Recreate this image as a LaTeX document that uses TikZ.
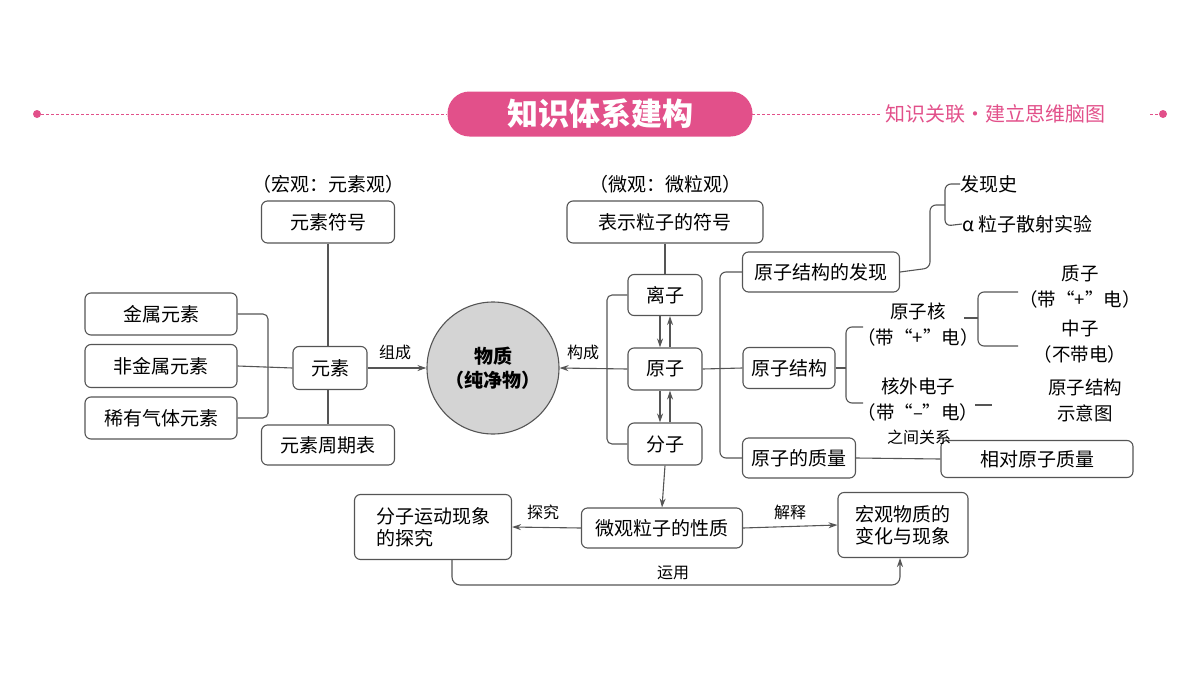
\documentclass[tikz,border=0pt]{standalone}
\usepackage{fontspec}
\setmainfont{Noto Sans CJK SC}
\usetikzlibrary{arrows.meta}
\definecolor{pk}{HTML}{E2508A}
\definecolor{gy}{HTML}{555555}
\begin{document}
\begin{tikzpicture}[x=1pt,y=-1pt,
  box/.style={draw=gy,line width=1.1pt,rounded corners=6pt,fill=white,font=\fontsize{19}{22}\selectfont,inner sep=0pt},
  ln/.style={draw=gy,line width=1.1pt},
  ar/.style={ln,-{Stealth[length=9pt,width=6pt]}},
  lab/.style={font=\fontsize{16}{19}\selectfont,inner sep=1pt},
  txt/.style={font=\fontsize{19}{23}\selectfont,align=center,inner sep=0pt},
  stxt/.style={font=\fontsize{18.5}{26}\selectfont,align=center,inner sep=0pt}]
\useasboundingbox (0,0) rectangle (1200,675);
% header
\fill[pk] (37,114) circle (4);
\fill[pk] (1163,114) circle (4);
\draw[pk,line width=1pt,dash pattern=on 3pt off 2pt] (41,114) -- (447,114);
\draw[pk,line width=1pt,dash pattern=on 3pt off 2pt] (752,114) -- (880,114);
\draw[pk,line width=1pt,dash pattern=on 3pt off 2pt] (1150,114) -- (1159,114);
\node[fill=pk,rounded corners=22pt,minimum width=305pt,minimum height=45pt,text=white,font=\fontsize{31}{34}\selectfont\bfseries] (hd) at (600,114) {知识体系建构};
\node[text=pk,font=\fontsize{20}{22}\selectfont,anchor=west,inner sep=0pt] (hr) at (885,114) {知识关联·建立思维脑图};
% left side
\node[txt] (hg) at (328,184) {（宏观：元素观）};
\node[box,minimum width=133pt,minimum height=42pt] (ysfh) at (328,222) {元素符号};
\node[box,minimum width=74pt,minimum height=43pt] (ys) at (330,368) {元素};
\node[box,minimum width=133pt,minimum height=40pt] (zqb) at (328,445) {元素周期表};
\node[box,minimum width=152pt,minimum height=42pt] (js) at (161,314) {金属元素};
\node[box,minimum width=152pt,minimum height=43pt] (fjs) at (161,366) {非金属元素};
\node[box,minimum width=152pt,minimum height=42pt] (xy) at (161,418) {稀有气体元素};
\draw[ln] (ysfh.south) -- (ysfh.south|-ys.north);
\draw[ln] (zqb.north) -- (zqb.north|-ys.south);
\draw[ln,rounded corners=5pt] (js.east) -- (268,314) -- (268,418) -- (xy.east);
\draw[ln] (fjs.east) -- (ys.west);
\node[circle,draw=gy,line width=1.1pt,fill=black!17,minimum size=132pt,font=\fontsize{19}{24}\selectfont\bfseries,align=center] (wz) at (493,368) {物质\\（纯净物）};
\draw[ar] (ys.east) -- (wz.west);
\node[lab] (zc) at (395,352) {组成};
% micro
\node[txt] (wg) at (665,184) {（微观：微粒观）};
\node[box,minimum width=196pt,minimum height=42pt] (bs) at (665,222) {表示粒子的符号};
\node[box,minimum width=74pt,minimum height=41pt] (lz) at (665,295) {离子};
\node[box,minimum width=74pt,minimum height=42pt] (yz) at (665,369) {原子};
\node[box,minimum width=74pt,minimum height=42pt] (fz) at (665,444) {分子};
\draw[ln] (bs.south) -- (lz.north);
\draw[ln,rounded corners=5pt] (lz.west) -- (607,295) -- (607,444) -- (fz.west);
\draw[ar] (yz.west) -- (wz.east);
\node[lab] (gc) at (583,352) {构成};
\draw[ar] ([xshift=-5pt]lz.south) -- ([xshift=-5pt]yz.north);
\draw[ar] ([xshift=5pt]yz.north) -- ([xshift=5pt]lz.south);
\draw[ar] ([xshift=-5pt]yz.south) -- ([xshift=-5pt]fz.north);
\draw[ar] ([xshift=5pt]fz.north) -- ([xshift=5pt]yz.south);
% atom branches
\node[box,minimum width=157pt,minimum height=40pt] (fx) at (821,272) {原子结构的发现};
\node[box,minimum width=92pt,minimum height=41pt] (jg) at (789,368) {原子结构};
\node[box,minimum width=113pt,minimum height=40pt] (zl) at (799,458) {原子的质量};
\draw[ln] (yz.east) -- (jg.west);
\draw[ln,rounded corners=6pt] (fx.west) -- (720,272) -- (720,458) -- (zl.west);
\node[txt,anchor=west] (fxs) at (960,184) {发现史};
\node[txt,anchor=west] (az) at (962,224) {α 粒子散射实验};
\draw[ln,rounded corners=6pt] (fx.east) -- (930,268) -- (930,205) -- (945,205);
\draw[ln,rounded corners=6pt] (fxs.west) -- (945,184) -- (945,226) -- (az.west);
\node[stxt] (yzh) at (918,325) {原子核\\（带“+”电）};
\node[stxt] (hw) at (918,400) {核外电子\\（带“–”电）};
\draw[ln] (jg.east) -- (846,368);
\draw[ln,rounded corners=6pt] (863,327) -- (846,327) -- (846,403) -- (863,403);
\node[stxt] (zz) at (1080,287) {质子\\（带“+”电）};
\node[stxt] (nz) at (1080,342) {中子\\（不带电）};
\draw[ln] (964,318) -- (978,318);
\draw[ln,rounded corners=6pt] (1018,292) -- (978,292) -- (978,346) -- (1018,346);
\node[stxt] (sy) at (1085,400) {原子结构\\示意图};
\draw[ln] (975,405) -- (992,405);
\node[box,minimum width=192pt,minimum height=37pt] (xd) at (1037,459) {相对原子质量};
\draw[ln] (zl.east) -- (xd.west);
\node[lab] (zj) at (919,437) {之间关系};
% bottom
\node[box,minimum width=161pt,minimum height=40pt] (xz) at (662,528) {微观粒子的性质};
\draw[ar] (fz.south) -- (xz.north);
\node[box,minimum width=157pt,minimum height=65pt,align=left] (tj) at (433,527) {分子运动现象\\的探究};
\node[box,minimum width=130pt,minimum height=65pt,align=center] (hgz) at (903,525) {宏观物质的\\变化与现象};
\draw[ar] (xz.west) -- (tj.east);
\draw[ar] (xz.east) -- (hgz.west);
\node[lab] (tjl) at (543,512) {探究};
\node[lab] (js2) at (790,512) {解释};
\draw[ar,rounded corners=8pt] (452,560) -- (452,585) -- (900,585) -- (900,558);
\node[lab] (yy) at (673,573) {运用};
\end{tikzpicture}
\end{document}
